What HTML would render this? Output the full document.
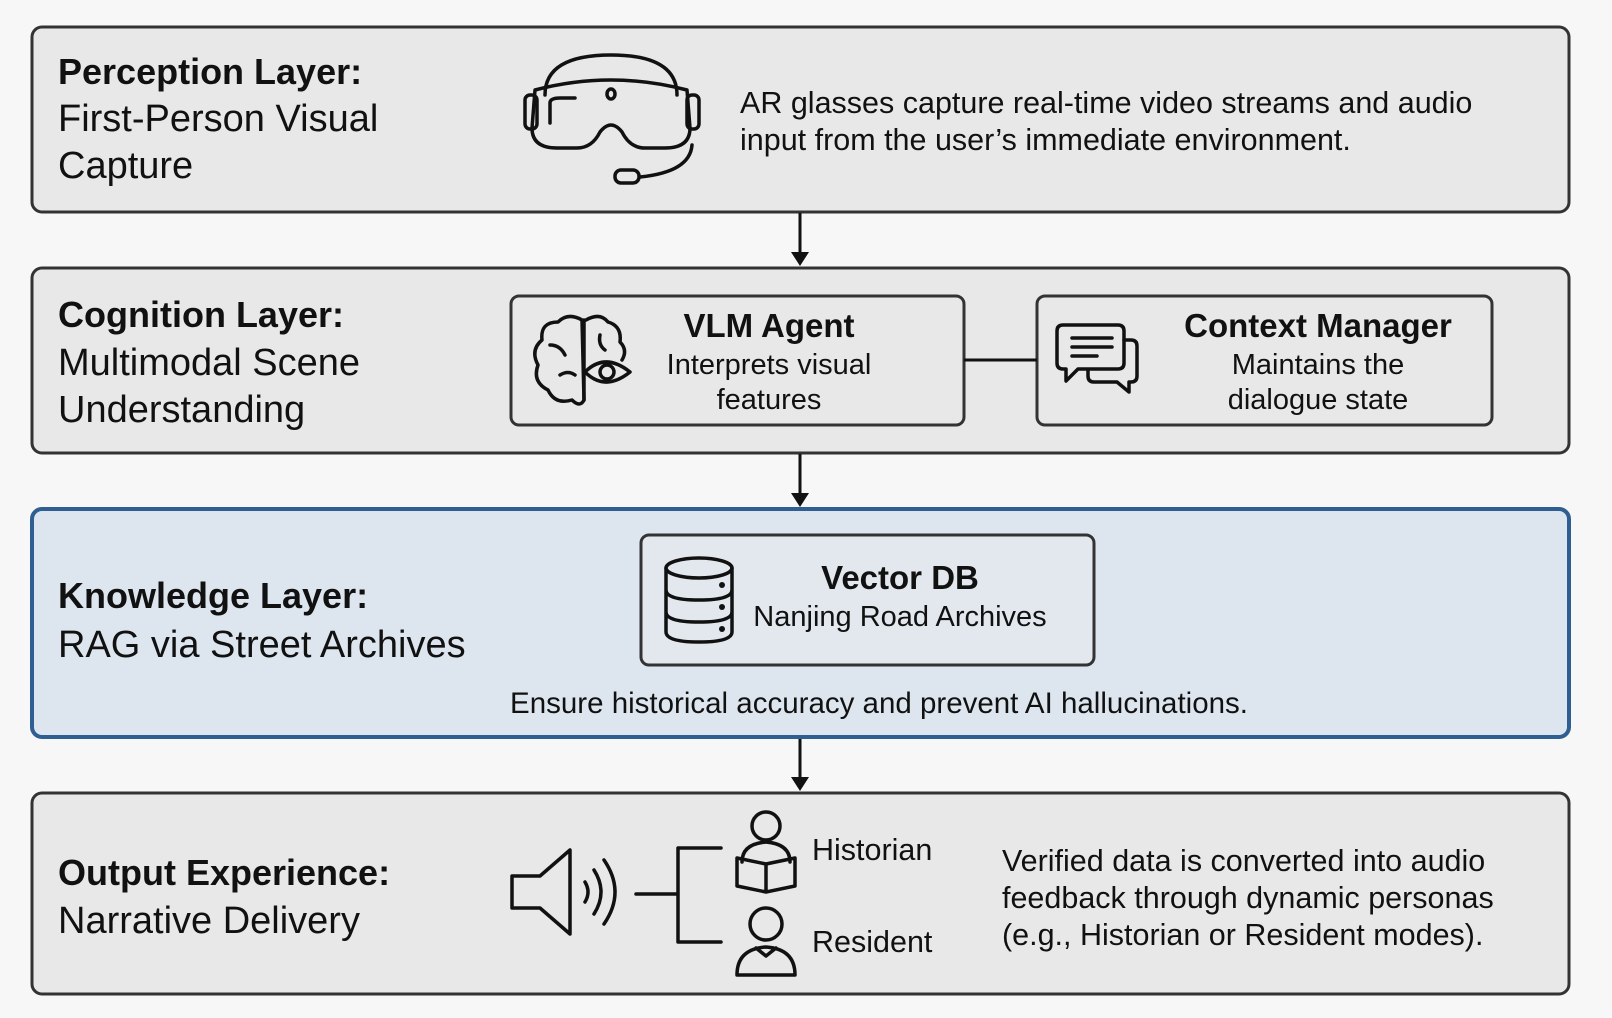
<!DOCTYPE html>
<html><head><meta charset="utf-8"><style>
html,body{margin:0;padding:0;background:#f7f7f7;}
svg{display:block;}
text{font-family:"Liberation Sans",sans-serif;fill:#111;}
.t{font-size:36px;font-weight:bold;}
.s{font-size:38px;}
.d{font-size:30.5px;}
.b{font-size:33px;font-weight:bold;}
.m{font-size:29px;}
.ic{fill:none;stroke:#111;stroke-width:3.5;stroke-linecap:round;stroke-linejoin:round;}
</style></head><body>
<svg width="1612" height="1018" viewBox="0 0 1612 1018" xmlns="http://www.w3.org/2000/svg">
<rect width="1612" height="1018" fill="#f7f7f7"/>
<rect x="32" y="27" width="1537" height="185" rx="10" fill="#e8e8e8" stroke="#333" stroke-width="3"/>
<rect x="32" y="268" width="1537" height="185" rx="10" fill="#e8e8e8" stroke="#333" stroke-width="3"/>
<rect x="32" y="509" width="1537" height="228" rx="10" fill="#dde6ef" stroke="#2f5f92" stroke-width="4"/>
<rect x="32" y="793" width="1537" height="201" rx="10" fill="#e8e8e8" stroke="#333" stroke-width="3"/>
<g stroke="#111" stroke-width="3"><line x1="800" y1="213" x2="800" y2="254"/><line x1="800" y1="454" x2="800" y2="495"/><line x1="800" y1="739" x2="800" y2="780"/></g>
<g fill="#111"><path d="M791 252h18l-9 14z"/><path d="M791 493h18l-9 14z"/><path d="M791 777h18l-9 14z"/></g>
<text class="t" x="58" y="84">Perception Layer:</text>
<text class="s" x="58" y="131">First-Person Visual</text>
<text class="s" x="58" y="178">Capture</text>
<g class="ic">
<path d="M545 95 Q545 55 611 55 Q677 55 677 95"/>
<path d="M535 90 Q611 70 687 90 L690 128 Q690 148 665 148 L645 148 Q630 148 622 132 Q611 118 600 132 Q592 148 577 148 L557 148 Q532 148 532 128Z"/>
<rect x="525" y="95" width="12" height="34" rx="5"/><rect x="687" y="95" width="12" height="34" rx="5"/>
<path d="M550 123 L550 103 Q550 98 560 98 L575 98"/><ellipse cx="611" cy="94" rx="4" ry="5"/>
<path d="M692 145 Q690 172 640 177"/><rect x="615" y="170" width="24" height="13" rx="6"/>
</g>
<text class="d" x="740" y="113">AR glasses capture real-time video streams and audio</text>
<text class="d" x="740" y="150">input from the user’s immediate environment.</text>
<text class="t" x="58" y="327">Cognition Layer:</text>
<text class="s" x="58" y="375">Multimodal Scene</text>
<text class="s" x="58" y="422">Understanding</text>
<rect x="511" y="296" width="453" height="129" rx="8" fill="#e8e8e8" stroke="#333" stroke-width="3"/>
<rect x="1037" y="296" width="455" height="129" rx="8" fill="#e8e8e8" stroke="#333" stroke-width="3"/>
<line x1="964" y1="360" x2="1037" y2="360" stroke="#111" stroke-width="3"/>
<g class="ic">
<path d="M582 320 Q568 312 558 322 Q540 322 542 340 Q530 350 538 365 Q532 382 548 390 Q555 405 572 400 Q580 408 584 400Z"/>
<path d="M584 320 L584 400 M586 320 Q600 312 608 322 Q622 326 620 342 Q628 350 622 360"/>
<path d="M585 372 Q605 352 630 372 Q605 392 585 372Z"/><circle cx="607" cy="372" r="7"/>
<path d="M550 345 Q560 345 565 355 M560 375 Q568 370 575 375 M600 335 Q598 345 605 350"/>
</g>
<text class="b" x="769" y="337" text-anchor="middle">VLM Agent</text>
<text class="m" x="769" y="374" text-anchor="middle">Interprets visual</text>
<text class="m" x="769" y="409" text-anchor="middle">features</text>
<g class="ic">
<path d="M1063 325 h55 q6 0 6 6 v32 q0 6 -6 6 h-40 l-12 12 v-12 h-3 q-6 0 -6 -6 v-32 q0 -6 6 -6z"/>
<path d="M1072 338 h40 M1072 347 h40 M1072 356 h25"/>
<path d="M1124 340 h7 q6 0 6 6 v30 q0 6 -6 6 h-2 v10 l-12 -10 h-23 q-6 0 -6 -6 v-6"/>
</g>
<text class="b" x="1318" y="337" text-anchor="middle">Context Manager</text>
<text class="m" x="1318" y="374" text-anchor="middle">Maintains the</text>
<text class="m" x="1318" y="409" text-anchor="middle">dialogue state</text>
<text class="t" x="58" y="608">Knowledge Layer:</text>
<text class="s" x="58" y="657">RAG via Street Archives</text>
<rect x="641" y="535" width="453" height="130" rx="8" fill="#e2e8ee" stroke="#333" stroke-width="3"/>
<g class="ic">
<ellipse cx="699" cy="568" rx="33" ry="10"/>
<path d="M666 568 v64 q0 10 33 10 q33 0 33 -10 v-64 M666 590 q0 10 33 10 q33 0 33 -10 M666 612 q0 10 33 10 q33 0 33 -10"/>
</g>
<g fill="#111"><circle cx="722" cy="585" r="3"/><circle cx="722" cy="607" r="3"/><circle cx="722" cy="629" r="3"/></g>
<text class="b" x="900" y="589" text-anchor="middle">Vector DB</text>
<text class="m" x="900" y="626" text-anchor="middle">Nanjing Road Archives</text>
<text class="m" x="879" y="713" text-anchor="middle" style="font-size:29.5px">Ensure historical accuracy and prevent AI hallucinations.</text>
<text class="t" x="58" y="885">Output Experience:</text>
<text class="s" x="58" y="933">Narrative Delivery</text>
<g class="ic">
<path d="M512 876 h28 l30 -26 v84 l-30 -26 h-28z"/>
<path d="M585 882 q6 10 0 20 M594 870 q14 22 0 44 M604 860 q22 32 0 64"/>
<path d="M636 894 h42 M678 848 v94 M678 848 h43 M678 942 h43"/>
<circle cx="766" cy="826" r="14"/><path d="M742 862 q0 -18 24 -20 q24 2 24 20"/>
<path d="M737 858 l29 6 l29 -6 v28 l-29 6 l-29 -6z M766 864 v28"/>
<circle cx="766" cy="924" r="16"/><path d="M737 975 q0 -26 29 -28 q29 2 29 28z"/><path d="M756 948 l10 8 l10 -8"/>
</g>
<text class="d" x="812" y="860">Historian</text>
<text class="d" x="812" y="952">Resident</text>
<text class="d" x="1002" y="871">Verified data is converted into audio</text>
<text class="d" x="1002" y="908">feedback through dynamic personas</text>
<text class="d" x="1002" y="945">(e.g., Historian or Resident modes).</text>
</svg>
</body></html>
